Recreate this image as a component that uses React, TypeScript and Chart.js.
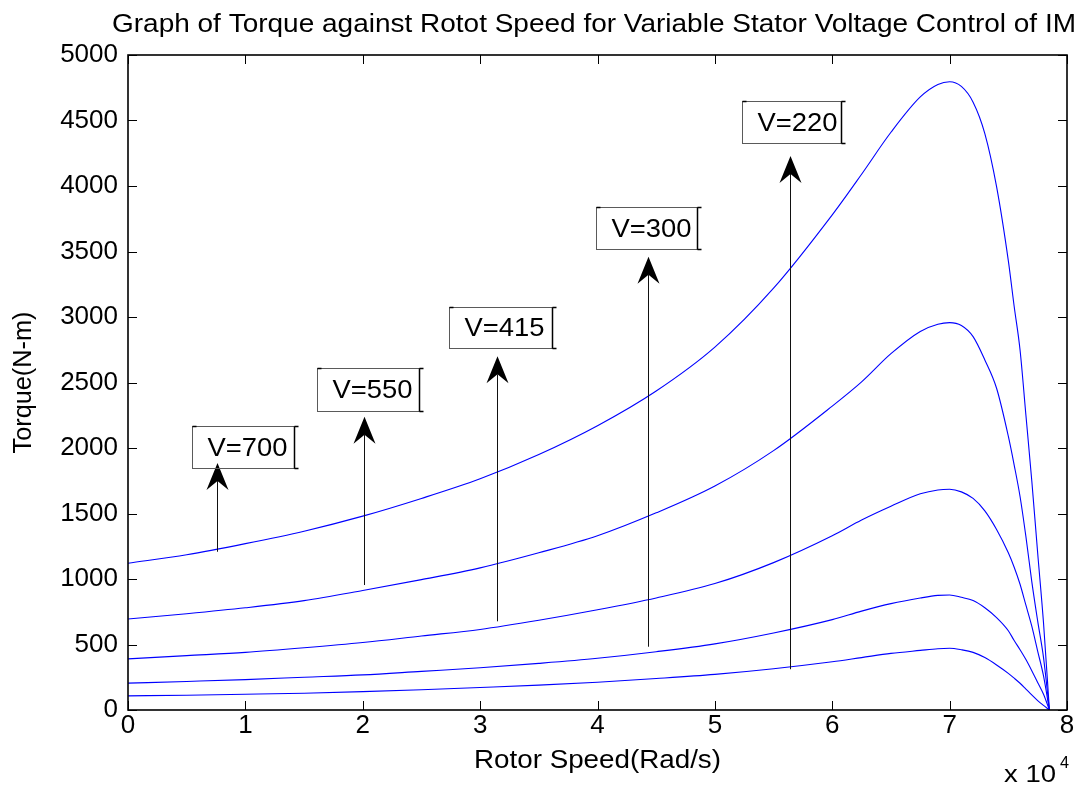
import React, { useEffect, useRef } from "react";
import { Chart, registerables } from "chart.js";

Chart.register(...registerables);

// Rotor speed samples (rad/s)
const rotorSpeed = [
  0, 5000, 10000, 15000, 20000, 25000, 30000, 35000, 40000, 45000, 50000, 55000,
  60000, 62500, 65000, 67500, 69000, 70000, 71000, 72000, 73000, 74000, 75000,
  75500, 76000, 76500, 77000, 77500, 78000, 78500,
];

// Torque (N-m) for each stator voltage
const torqueV700 = [
  1120, 1185, 1270, 1365, 1480, 1615, 1765, 1950, 2170, 2435, 2770, 3220,
  3780, 4090, 4410, 4680, 4775, 4796, 4760, 4640, 4400, 3995, 3430,
  3080, 2748, 2250, 1750, 1200, 664, 0,
];
const torqueV550 = [
  695, 735, 780, 835, 912, 995, 1085, 1200, 1330, 1505, 1710, 1980,
  2320, 2505, 2720, 2890, 2945, 2957, 2935, 2850, 2672, 2456, 2090,
  1870, 1630, 1323, 980, 680, 400, 0,
];
const torqueV415 = [
  390, 415, 440, 475, 515, 565, 615, 685, 765, 855, 965, 1125,
  1330, 1450, 1555, 1650, 1680, 1685, 1665, 1615, 1520, 1378, 1200,
  1090, 960, 800, 640, 450, 260, 0,
];
const torqueV300 = [
  205, 218, 232, 250, 268, 295, 322, 356, 395, 445, 505, 588,
  690, 755, 812, 855, 875, 878, 860, 835, 780, 705, 605,
  530, 460, 385, 300, 210, 120, 0,
];
const torqueV220 = [
  108, 113, 120, 128, 140, 155, 172, 190, 212, 240, 272, 315,
  368, 400, 432, 455, 468, 471, 460, 440, 400, 344, 280,
  243, 204, 160, 115, 72, 35, 0,
];

// Annotations (data coordinates)
const boxLabels = ["V=700", "V=550", "V=415", "V=300", "V=220"];
const boxLeft = [5420, 16100, 27390, 39870, 52270];
const boxRight = [14110, 24830, 36130, 48440, 60780];
const boxTop = [2168, 2608, 3079, 3842, 4649];
const boxBottom = [1850, 2285, 2763, 3519, 4326];
const arrowX = [7590, 20130, 31420, 44320, 56440];
const arrowBase = [1208, 954, 677, 483, 311];
const arrowTip = [1885, 2239, 2700, 3460, 4229];

const xTicks = [0, 10000, 20000, 30000, 40000, 50000, 60000, 70000, 80000];
const yTicks = [0, 500, 1000, 1500, 2000, 2500, 3000, 3500, 4000, 4500, 5000];

const titleText =
  "Graph of Torque against Rotot Speed for Variable Stator Voltage Control of IM";
const xLabel = "Rotor Speed(Rad/s)";
const yLabel = "Torque(N-m)";

const FONT = "'Liberation Sans', Arial, sans-serif";

function fitText(
  ctx: CanvasRenderingContext2D,
  text: string,
  x: number,
  y: number,
  size: number,
  width: number,
  align: CanvasTextAlign
) {
  ctx.save();
  ctx.font = `${size}px ${FONT}`;
  const w = ctx.measureText(text).width;
  ctx.translate(x, y);
  ctx.scale(width / w, 1);
  ctx.textAlign = align;
  ctx.textBaseline = "alphabetic";
  ctx.fillStyle = "#000";
  ctx.fillText(text, 0, 0);
  ctx.restore();
}

const decor = {
  id: "decor",
  afterDraw(chart: any) {
    const ctx: CanvasRenderingContext2D = chart.ctx;
    const a = chart.chartArea;
    const xs = chart.scales.x;
    const ys = chart.scales.y;
    ctx.save();

    // ticks (inward, all four sides)
    ctx.strokeStyle = "#000";
    ctx.lineWidth = 1;
    ctx.beginPath();
    xTicks.forEach((t) => {
      const px = Math.round(xs.getPixelForValue(t)) + 0.5;
      ctx.moveTo(px, a.bottom);
      ctx.lineTo(px, a.bottom - 9);
      ctx.moveTo(px, a.top);
      ctx.lineTo(px, a.top + 9);
    });
    yTicks.forEach((t) => {
      const py = Math.round(ys.getPixelForValue(t)) + 0.5;
      ctx.moveTo(a.left, py);
      ctx.lineTo(a.left + 9, py);
      ctx.moveTo(a.right, py);
      ctx.lineTo(a.right - 9, py);
    });
    ctx.stroke();

    // frame
    ctx.lineWidth = 1.6;
    ctx.strokeRect(a.left, a.top, a.right - a.left, a.bottom - a.top);

    // annotations: arrows
    arrowX.forEach((xv, i) => {
      const px = Math.round(xs.getPixelForValue(xv)) + 0.5;
      const pb = ys.getPixelForValue(arrowBase[i]);
      const pt = ys.getPixelForValue(arrowTip[i]);
      ctx.strokeStyle = "#111";
      ctx.lineWidth = 1;
      ctx.beginPath();
      ctx.moveTo(px, pb);
      ctx.lineTo(px, pt + 18);
      ctx.stroke();
      ctx.fillStyle = "#000";
      ctx.beginPath();
      ctx.moveTo(px, pt);
      ctx.lineTo(px - 11, pt + 27);
      ctx.lineTo(px, pt + 18);
      ctx.lineTo(px + 11, pt + 27);
      ctx.closePath();
      ctx.fill();
    });

    // annotations: text boxes
    boxLabels.forEach((lab, i) => {
      const l = Math.round(xs.getPixelForValue(boxLeft[i])) + 0.5;
      const r = Math.round(xs.getPixelForValue(boxRight[i])) + 0.5;
      const t = Math.round(ys.getPixelForValue(boxTop[i])) + 0.5;
      const b = Math.round(ys.getPixelForValue(boxBottom[i])) + 0.5;
      ctx.strokeStyle = "#5a5a5a";
      ctx.lineWidth = 1;
      ctx.strokeRect(l, t, r - l, b - t);
      ctx.strokeStyle = "#000";
      ctx.lineWidth = 1.5;
      ctx.beginPath();
      ctx.moveTo(r, t);
      ctx.lineTo(r, b);
      ctx.moveTo(r, t);
      ctx.lineTo(r + 4, t);
      ctx.moveTo(r, b);
      ctx.lineTo(r + 4, b);
      ctx.moveTo(l, t);
      ctx.lineTo(l + 4, t);
      ctx.stroke();
      fitText(ctx, lab, l + 15, (t + b) / 2 + 8, 25, 80, "left");
    });

    // title
    fitText(ctx, titleText, 594, 32, 25, 964, "center");
    // x label
    fitText(ctx, xLabel, (a.left + a.right) / 2, 768, 25, 247, "center");
    // y label
    ctx.save();
    ctx.translate(31, (a.top + a.bottom) / 2);
    ctx.rotate(-Math.PI / 2);
    fitText(ctx, yLabel, 0, 0, 26, 142, "center");
    ctx.restore();
    // x 10^4
    fitText(ctx, "x 10", 1004, 782, 23, 52, "left");
    fitText(ctx, "4", 1060, 768, 16, 9, "left");

    ctx.restore();
  },
};

export default function App() {
  const ref = useRef<HTMLCanvasElement | null>(null);
  useEffect(() => {
    document.body.style.margin = "0";
    const canvas = ref.current!;
    const mk = (vals: number[]) => ({
      data: rotorSpeed.map((x, i) => ({ x, y: vals[i] })),
      showLine: true,
      borderColor: "#0000ff",
      borderWidth: 1.1,
      pointRadius: 0,
      cubicInterpolationMode: "monotone" as const,
      fill: false,
    });
    const chart = new Chart(canvas, {
      type: "scatter",
      data: {
        datasets: [
          { label: "V=700", ...mk(torqueV700) },
          { label: "V=550", ...mk(torqueV550) },
          { label: "V=415", ...mk(torqueV415) },
          { label: "V=300", ...mk(torqueV300) },
          { label: "V=220", ...mk(torqueV220) },
        ],
      },
      options: {
        responsive: false,
        animation: false,
        layout: { padding: { top: 55, right: 14, left: 0, bottom: 0 } },
        plugins: {
          legend: { display: false },
          title: { display: false },
          tooltip: { enabled: false },
        },
        scales: {
          x: {
            type: "linear",
            min: 0,
            max: 80000,
            afterFit: (s: any) => {
              s.height = 75;
            },
            afterBuildTicks: (s: any) => {
              s.ticks = xTicks.map((v) => ({ value: v }));
            },
            grid: { display: false, drawTicks: false },
            border: { display: false },
            ticks: {
              color: "#000",
              font: { family: FONT, size: 26 },
              padding: 0,
              maxRotation: 0,
              callback: (v: any) => String(Number(v) / 10000),
            },
          },
          y: {
            type: "linear",
            min: 0,
            max: 5000,
            afterFit: (s: any) => {
              s.width = 128;
            },
            afterBuildTicks: (s: any) => {
              s.ticks = yTicks.map((v) => ({ value: v }));
            },
            grid: { display: false, drawTicks: false },
            border: { display: false },
            ticks: {
              color: "#000",
              font: { family: FONT, size: 26 },
              padding: 10,
              callback: (v: any) => String(v),
            },
          },
        },
      },
      plugins: [decor],
    });
    return () => chart.destroy();
  }, []);
  return <canvas ref={ref} width={1081} height={785} style={{ display: "block" }} />;
}
